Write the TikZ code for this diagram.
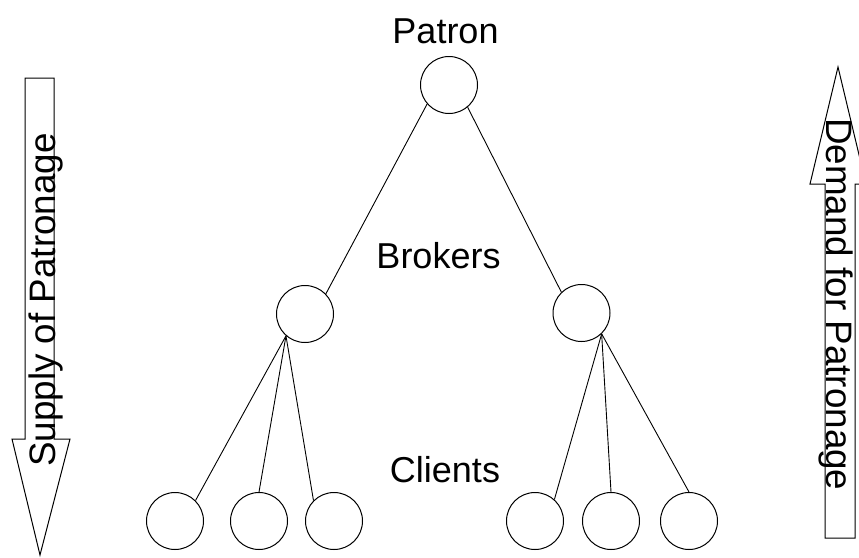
\documentclass[tikz,border=0pt]{standalone}
\usepackage{fontspec}
\setmainfont{Liberation Sans}
\begin{document}
\begin{tikzpicture}[x=1pt,y=-1pt,
  circ/.style={circle,draw,line width=1pt,minimum size=57pt,inner sep=0pt},
  lbl/.style={font=\fontsize{36}{40}\selectfont,inner sep=0pt},
  sidelbl/.style={font=\fontsize{36.8}{40}\selectfont,inner sep=0pt},
  conn/.style={line width=0.9pt},
  bigarrow/.style={draw,line width=1pt,fill=white,line join=miter}]
\useasboundingbox (0,0) rectangle (859,557);
% nodes
\node[circ] (patron) at (449,85) {};
\node[circ] (bL) at (305,314) {};
\node[circ] (bR) at (581.5,313) {};
\node[circ] (c1) at (175,521) {};
\node[circ] (c2) at (259,521) {};
\node[circ] (c3) at (334,521) {};
\node[circ] (c4) at (535,521) {};
\node[circ] (c5) at (611,521) {};
\node[circ] (c6) at (689,521) {};
% labels
\node[lbl,anchor=base] (tPatron) at (445.5,43) {Patron};
\node[lbl,anchor=base] (tBrokers) at (438.5,268) {Brokers};
\node[lbl,anchor=base] (tClients) at (445,482) {Clients};
% connectors
\draw[conn] (patron.221) -- (bL.44);
\draw[conn] (patron.310) -- (bR.134);
\draw[conn] (bL.229) -- (c1.45);
\draw[conn] (bL.229) -- (c2.90);
\draw[conn] (bL.229) -- (c3.135);
\draw[conn] (bR.314) -- (c4.48);
\draw[conn] (bR.314) -- (c5.90);
\draw[conn] (bR.314) -- (c6.90);
% big arrows
\draw[bigarrow] (25,78) -- (54,78) -- (54,439) -- (70,439) -- (40,555) -- (12,439) -- (25,439) -- cycle;
\node[sidelbl,rotate=90,anchor=base west] (tSupply) at (55,467) {Supply of Patronage};
\draw[bigarrow] (825,538) -- (855,538) -- (855,184) -- (866,184) -- (838,67) -- (810,184) -- (825,184) -- cycle;
\node[sidelbl,rotate=-90,anchor=base west] (tDemand) at (826,118) {Demand for Patronage};
\end{tikzpicture}
\end{document}
